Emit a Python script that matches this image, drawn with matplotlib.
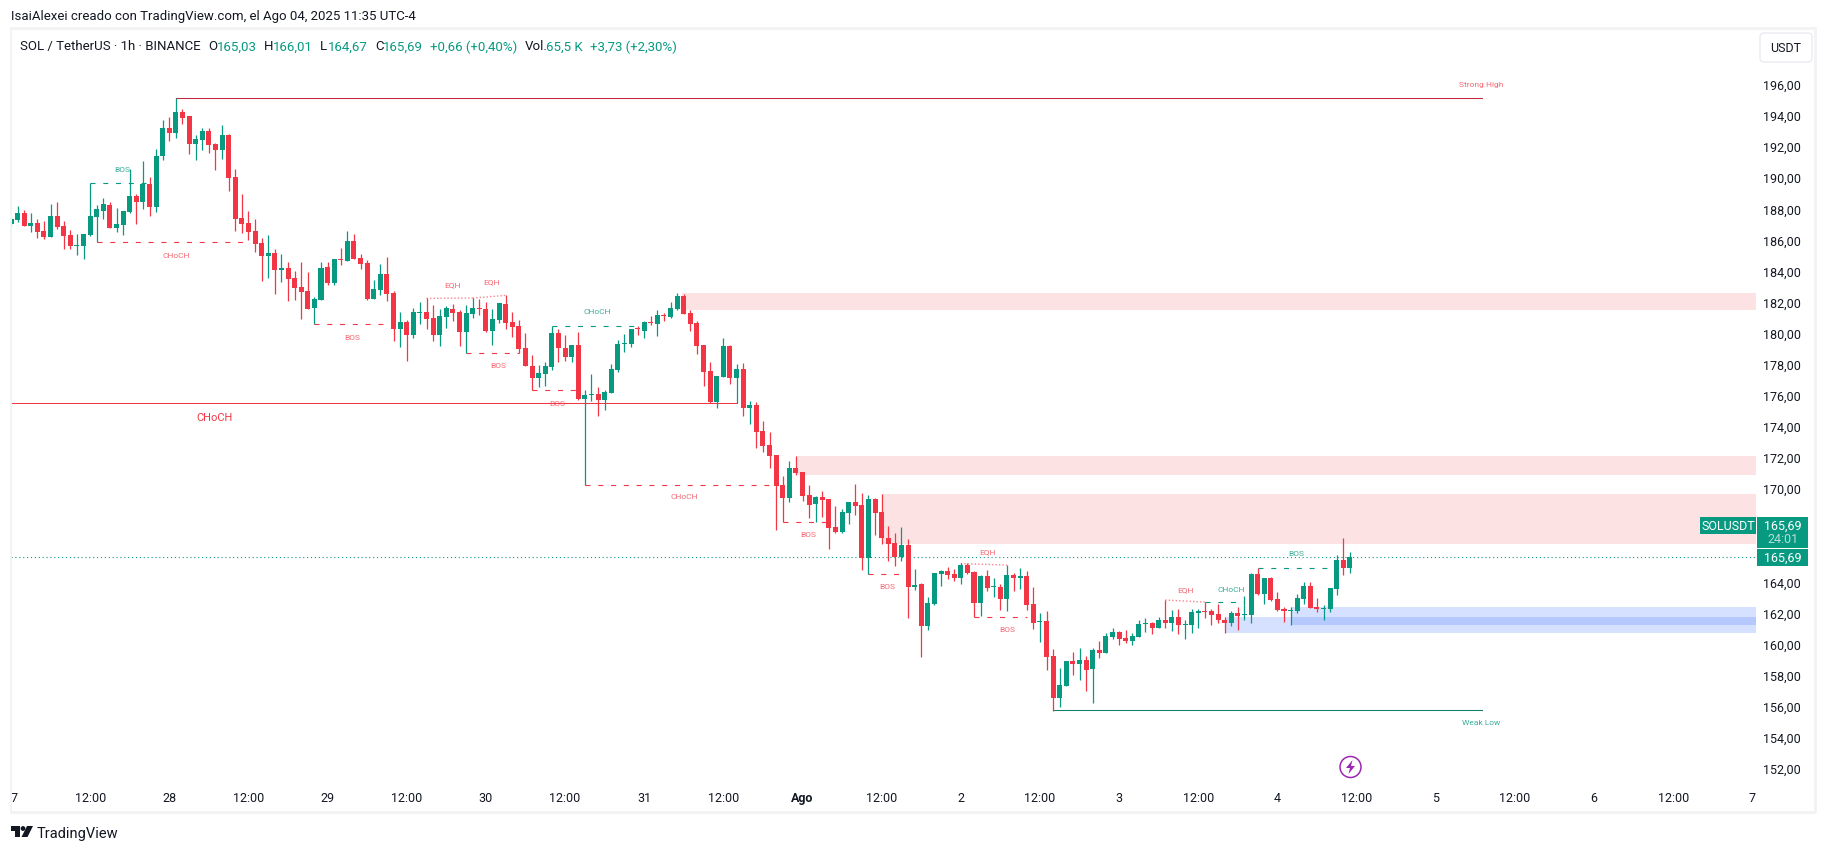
import numpy as np
import matplotlib
matplotlib.use("Agg")
import matplotlib.pyplot as plt
from matplotlib.patches import Rectangle, FancyBboxPatch, Circle, Polygon
from matplotlib.transforms import Affine2D

plt.rcParams['font.family'] = ['Roboto', 'DejaVu Sans']

opens = [187.12,187.37,187.82,186.99,187.18,186.67,186.28,187.63,186.99,186.41,185.70,185.70,186.41,187.57,187.95,188.34,186.86,187.05,187.89,188.92,188.53,189.69,188.21,
191.49,193.29,192.97,194.32,194.06,192.26,192.52,193.10,192.26,191.88,192.84,190.14,187.50,187.18,186.67,185.89,185.06,185.25,184.16,184.29,183.64,183.06,182.81,181.71,182.23,184.35,183.32,184.86,184.73,186.02,184.93,184.61,182.29,182.87,183.90,182.68,180.36,
180.82,179.98,181.40,181.46,181.08,179.98,181.14,181.65,181.46,180.18,181.33,181.72,181.65,180.24,180.95,181.98,180.82,180.56,179.15,177.99,177.22,177.47,177.92,180.11,179.15,178.57,179.34,175.87,176.12,176.19,175.80,176.25,177.73,179.40,179.40,180.43,180.24,180.82,180.69,181.27,181.14,181.65,182.49,181.40,180.75,179.34,177.67,175.67,177.28,179.27,177.22,177.80,
175.28,175.48,173.81,172.90,172.26,170.33,169.50,171.43,171.17,169.69,169.11,169.57,169.44,167.64,167.32,168.54,169.24,169.05,165.64,169.44,168.60,166.93,166.61,165.71,166.48,163.78,163.97,161.27,162.68,164.61,164.81,164.61,164.36,165.19,164.74,162.75,164.49,163.78,163.78,163.01,164.55,164.36,
164.48,162.68,161.52,161.59,159.34,156.64,157.41,159.02,158.82,159.08,158.50,159.72,159.53,160.56,160.88,160.50,160.30,160.56,161.40,161.46,161.14,161.65,161.46,161.85,161.33,161.33,162.10,162.23,162.23,162.04,161.65,161.46,162.10,161.98,161.98,164.61,163.33,164.35,163.00,162.36,162.23,162.23,163.00,163.84,162.49,162.36,162.36,163.65,165.51,165.03]
highs = [187.55,188.27,188.02,187.82,187.44,187.31,188.40,188.53,187.31,186.73,186.47,186.47,189.73,188.34,188.79,188.53,188.14,187.95,190.65,189.05,191.17,190.14,191.94,
193.81,194.00,195.22,194.51,194.06,192.84,193.29,193.29,192.33,193.48,192.91,190.65,189.05,187.95,187.44,186.21,186.41,185.51,185.19,184.67,184.09,184.67,184.03,182.42,184.67,184.67,184.86,185.57,186.67,186.47,185.19,184.80,183.51,184.54,184.99,182.81,181.46,
180.95,181.72,182.10,182.36,181.91,181.65,181.85,181.98,181.59,181.91,182.36,182.30,182.10,181.65,182.04,182.55,181.46,180.95,180.11,178.70,178.05,178.25,180.54,180.37,179.98,179.34,180.18,176.44,177.47,176.64,176.44,178.12,179.66,180.05,180.37,180.56,180.88,181.20,181.59,181.40,182.10,182.68,182.62,181.59,180.88,179.34,178.25,177.35,179.79,179.34,178.12,178.18,
175.73,175.67,174.45,173.74,172.26,170.91,171.88,172.20,171.17,170.33,169.62,169.95,169.44,168.99,168.79,169.24,170.40,169.82,169.70,169.50,169.76,167.70,167.25,167.64,166.87,164.94,164.04,163.13,164.68,164.87,165.06,164.94,165.32,165.32,164.81,164.55,164.87,164.36,163.97,165.19,164.68,165.00,
164.81,163.78,162.10,162.23,159.79,158.57,159.02,159.60,159.85,159.34,159.85,160.30,160.82,161.14,160.95,161.01,160.82,161.65,161.78,161.52,161.85,162.94,162.30,162.36,161.65,162.36,162.36,162.81,162.36,162.68,161.85,162.23,162.49,163.20,164.68,165.00,164.35,164.42,163.45,162.49,162.49,163.33,164.10,164.10,163.07,162.62,163.71,165.83,166.93,166.01]
lows = [187.00,187.24,186.99,186.60,186.21,186.15,186.28,186.79,185.51,185.51,185.12,184.86,186.34,185.94,187.44,186.86,186.60,186.41,187.82,187.12,188.08,187.63,187.89,
191.23,192.46,192.65,193.55,191.62,191.23,191.88,191.68,190.59,191.30,189.24,186.67,186.54,186.09,185.31,183.45,183.64,182.61,183.38,182.16,182.23,181.01,181.65,180.66,182.23,183.19,183.19,184.48,184.73,184.86,184.22,182.23,182.29,182.55,182.16,179.59,179.20,
178.31,179.79,180.69,180.37,179.60,179.27,180.43,180.88,179.27,178.80,181.08,181.27,180.18,179.34,180.75,180.37,179.85,178.80,177.99,176.42,176.64,176.70,177.73,178.25,178.31,178.25,175.80,170.36,175.74,174.77,175.16,176.25,177.60,178.89,179.21,179.98,179.79,180.63,179.92,180.88,181.08,181.59,181.33,180.24,178.76,176.70,175.61,175.29,177.28,176.83,175.59,174.77,
174.26,172.71,172.45,171.43,167.44,167.93,169.24,170.98,169.30,168.21,167.95,168.28,166.22,167.25,167.25,167.83,168.41,164.87,164.59,167.12,166.54,165.45,165.13,165.45,161.78,163.58,159.28,161.01,162.62,163.84,164.29,164.16,163.97,164.61,161.83,161.91,163.52,163.14,162.30,162.23,163.52,163.65,
162.30,161.07,160.24,158.44,155.82,156.06,157.41,158.12,157.79,157.09,156.32,159.21,159.53,160.43,160.05,160.17,160.05,160.56,160.88,160.75,161.14,161.14,160.95,160.75,160.43,160.82,161.14,161.78,161.33,161.46,160.82,161.27,161.01,161.65,161.46,163.26,162.68,162.88,162.23,161.52,161.33,162.10,162.68,162.43,162.17,161.65,162.17,163.26,164.55,164.67]
closes = [187.44,187.82,186.99,187.18,186.60,186.28,187.63,186.92,186.34,185.70,185.76,186.47,187.63,188.08,188.40,186.86,187.12,187.95,188.92,188.53,189.69,188.21,191.49,
193.29,192.97,194.32,193.93,192.26,192.58,193.10,192.20,191.88,192.84,190.08,187.44,187.12,186.60,185.83,185.06,185.25,184.16,184.29,183.58,183.00,182.74,181.65,182.29,184.29,183.32,184.86,184.80,186.02,184.86,184.54,182.29,182.93,183.90,182.61,180.36,180.81,
179.98,181.46,181.46,181.01,179.98,181.20,181.72,181.40,180.18,181.40,181.72,181.65,180.24,181.01,182.04,180.75,180.50,179.08,177.99,177.22,177.54,177.99,180.11,179.15,178.57,179.34,175.87,176.12,176.19,175.80,176.32,177.80,179.40,179.47,180.37,180.37,180.82,180.75,181.27,181.20,181.72,182.49,181.33,180.69,179.27,177.60,175.67,177.35,179.27,177.22,177.80,175.29,
175.48,173.74,172.84,172.20,170.27,169.50,171.43,171.10,169.62,169.05,169.56,169.37,167.57,167.32,168.60,169.24,168.99,165.66,169.44,168.54,166.93,166.54,165.71,166.48,163.78,163.91,161.27,162.75,164.68,164.81,164.55,164.36,165.19,164.68,162.75,164.49,163.71,163.84,163.01,164.55,164.36,164.49,
162.62,161.46,161.59,159.27,156.64,157.47,159.02,158.82,159.08,158.44,159.72,159.53,160.62,160.88,160.43,160.30,160.62,161.40,161.46,161.14,161.65,161.46,161.85,161.33,161.40,162.17,162.23,162.17,161.98,161.65,161.46,162.10,161.91,162.04,164.61,163.33,164.35,162.94,162.30,162.23,162.30,163.07,163.84,162.43,162.36,162.43,163.71,165.51,165.00,165.69]

tick_prices = [p for p in range(152, 198, 2) if p != 166]   # 166,00 sits fully under the price tag in the reference
tick_hours = list(range(0, 265, 12))
tick_texts = ["7","12:00","28","12:00","29","12:00","30","12:00","31","12:00","Ago","12:00",
              "2","12:00","3","12:00","4","12:00","5","12:00","6","12:00","7"]

# price zones: first hour, low, high
red_zone_starts = [101.8, 119, 132]
red_zone_lows = [181.61, 170.98, 166.54]
red_zone_highs = [182.68, 172.20, 169.76]
blue_zone_starts = [184, 194]
blue_zone_lows = [160.82, 161.33]
blue_zone_highs = [161.85, 162.49]

# structure levels: first hour, last hour, first price, last price
bos_red = [(46,58,180.66),(69,77,178.80),(79,86,176.42),(117,124,167.94),(130,136,164.59),(146,154,161.83)]
choch_red = [(13,36,185.94),(87,116,170.33)]
dash_green = [(12,22,189.73),(82,95,180.54),(181,187,162.79),(189,201,164.98)]
eqh_lines = [(63,70,182.34,182.36),(70,75,182.36,182.53),(144,151,165.28,165.19),(175,181,162.94,162.81)]
major_choch = (175.59, 110)
strong_high = (25, 223, 195.22)
weak_low = (158, 223, 155.85)
last_price = 165.69

red_labels = [("CHoCH",25,185.13),("BOS",51.7,179.85),("EQH",66.9,183.26),("EQH",72.9,183.45),("BOS",73.9,178.05),
              ("BOS",82.8,175.60),("CHoCH",102,169.63),("BOS",120.9,167.18),("BOS",132.8,163.84),("EQH",148,166.09),
              ("BOS",151,161.07),("EQH",178,163.65),("Strong High",222.9,196.12)]
green_labels = [("BOS",16.8,190.66),("CHoCH",88.9,181.53),("CHoCH",185,163.65),("BOS",194.8,165.97),("Weak Low",222.9,155.07)]

GREEN = "#089981"
RED = "#F23645"
INK = "#131722"
W, H = 1826, 853

fig = plt.figure(figsize=(W/100, H/100), dpi=100, facecolor="white")
px = Affine2D().scale(1, -1).translate(0, H)   # top-left pixel coordinates for page furniture

L, R, T, B = 11, 1756, 30, 785
ax = fig.add_axes([L/W, 1-B/H, (R-L)/W, (B-T)/H])
ax.set_xlim(0.045, 264.56)
ax.set_ylim(151.11, 199.66)
XMAX = 264.56
for s in ax.spines.values():
    s.set_visible(False)

# zones
for s, lo, hi in zip(red_zone_starts, red_zone_lows, red_zone_highs):
    ax.add_patch(Rectangle((s, lo), XMAX-s, hi-lo, fc=RED, alpha=0.14, lw=0, zorder=1))
for s, lo, hi in zip(blue_zone_starts, blue_zone_lows, blue_zone_highs):
    ax.add_patch(Rectangle((s, lo), XMAX-s, hi-lo, fc="#2962FF", alpha=0.19, lw=0, zorder=1))

# structure
dash = (0, (4.5, 7))
for a, b, p in bos_red + choch_red:
    ax.plot([a, b], [p, p], color=RED, lw=0.8, ls=dash, zorder=2)
for a, b, p in dash_green:
    ax.plot([a, b], [p, p], color=GREEN, lw=0.8, ls=dash, zorder=2)
for a, b, p, q in eqh_lines:
    ax.plot([a, b], [p, q], color=RED, lw=1.0, ls=(0, (1, 1.5)), alpha=0.6, zorder=2)
ax.plot([0.045, major_choch[1]], [major_choch[0]]*2, color=RED, lw=0.75, zorder=2)
ax.plot(strong_high[:2], [strong_high[2]]*2, color="#C8243C", lw=0.75, zorder=2)
ax.plot(weak_low[:2], [weak_low[2]]*2, color="#0A7F6C", lw=0.75, zorder=2)
ax.axhline(last_price, color=GREEN, lw=0.8, ls=(0, (1, 2.5)), zorder=2)

# candles
idx = np.arange(len(closes))
o, h, l, c = map(np.array, (opens, highs, lows, closes))
up = c >= o
cols = np.where(up, GREEN, RED)
ax.vlines(idx, l, h, colors=cols, lw=0.9, zorder=3)
ax.bar(idx, np.abs(c-o), bottom=np.minimum(o, c), width=0.76, color=cols, lw=0, zorder=4)

# annotations
for s, x, p in red_labels:
    ax.text(x, p, s, color=RED, alpha=0.75, fontsize=6, ha="center", va="center", zorder=5)
for s, x, p in green_labels:
    ax.text(x, p, s, color=GREEN, alpha=0.8, fontsize=6, ha="center", va="center", zorder=5)
ax.text(30.8, 174.71, "CHoCH", color=RED, fontsize=8, ha="center", va="center", zorder=5)

# axes
ax.yaxis.tick_right()
ax.set_yticks(tick_prices)
ax.set_yticklabels([f"{p},00" for p in tick_prices])
ax.tick_params(axis="y", length=0, pad=5, labelsize=9, labelcolor=INK)
off = Affine2D().translate(0, 2)
for t_ in ax.get_yticklabels():
    t_.set_transform(t_.get_transform() + off)
ax.set_xticks(tick_hours)
ax.set_xticklabels(tick_texts)
ax.tick_params(axis="x", length=0, pad=5, labelsize=9, labelcolor=INK)
for n, t_ in enumerate(ax.get_xticklabels()):
    if t_.get_text() == "Ago":
        t_.set_fontweight("bold")
    if n == 0:
        t_.set_transform(t_.get_transform() + Affine2D().translate(3, 0))

# page frame
FR = "#F2F3F5"
for x, y, w, h_ in [(10, 28, 2, 786), (10, 28, 1806, 2.5), (1814, 28, 3, 786), (10, 812, 1806, 3)]:
    fig.add_artist(Rectangle((x, y), w, h_, fc=FR, lw=0, transform=px, zorder=6))

# header
def t(x, y, s, color=INK, size=9.5, **kw):
    kw.setdefault("va", "center")
    kw.setdefault("ha", "left")
    fig.text(x, y, s, color=color, fontsize=size, transform=px, zorder=10, **kw)

t(11, 17, "IsaiAlexei creado con TradingView.com, el Ago 04, 2025 11:35 UTC-4")
t(20, 47, "SOL / TetherUS · 1h · BINANCE")
for x, s in [(208, "O"), (264, "H"), (320, "L"), (375, "C"), (525, "Vol.")]:
    t(x, 47, s)
for x, s in [(217, "165,03"), (273, "166,01"), (328, "164,67"), (383, "165,69"),
             (430, "+0,66 (+0,40%)"), (546, "65,5 K"), (590, "+3,73 (+2,30%)")]:
    t(x, 47, s, color=GREEN)

# USDT button
fig.add_artist(FancyBboxPatch((1763, 37), 46, 23, boxstyle="round,pad=3,rounding_size=4",
                              fc="white", ec="#E9EBF0", lw=1, transform=px, zorder=7))
t(1785.5, 49, "USDT", ha="center", size=9)

# price tags
for x, y, w, h_ in [(1700, 518, 56, 17), (1757, 518, 51, 31), (1757, 550, 51, 17)]:
    fig.add_artist(Rectangle((x, y), w, h_, fc=GREEN, lw=0, transform=px, zorder=8))
t(1728, 526.5, "SOLUSDT", color="white", ha="center", size=9)
t(1783, 526, "165,69", color="white", ha="center", size=9)
t(1783, 540, "24:01", color="#B5E0D8", ha="center", size=9)
t(1783, 558.5, "165,69", color="white", ha="center", size=9)

# lightning icon
fig.add_artist(Circle((1350.5, 768), 10.5, fc="white", ec="#9C27B0", lw=1.1, transform=px, zorder=8))
fig.add_artist(Polygon([(1352.5, 761), (1346, 769), (1350, 769), (1348.5, 775), (1355, 767), (1351, 767)],
                       closed=True, fc="#9C27B0", lw=0, transform=px, zorder=9))

# TradingView mark
fig.add_artist(Polygon([(11, 827), (20, 827), (20, 838), (15, 838), (15, 832), (11, 832)],
                       closed=True, fc=INK, lw=0, transform=px, zorder=9))
fig.add_artist(Circle((23, 829.5), 2.4, fc=INK, lw=0, transform=px, zorder=9))
fig.add_artist(Polygon([(27, 827), (33, 827), (27.5, 838), (21.5, 838)],
                       closed=True, fc=INK, lw=0, transform=px, zorder=9))
t(37, 834.5, "TradingView", size=10.5)

fig.savefig("out.png", dpi=100, facecolor="white")
